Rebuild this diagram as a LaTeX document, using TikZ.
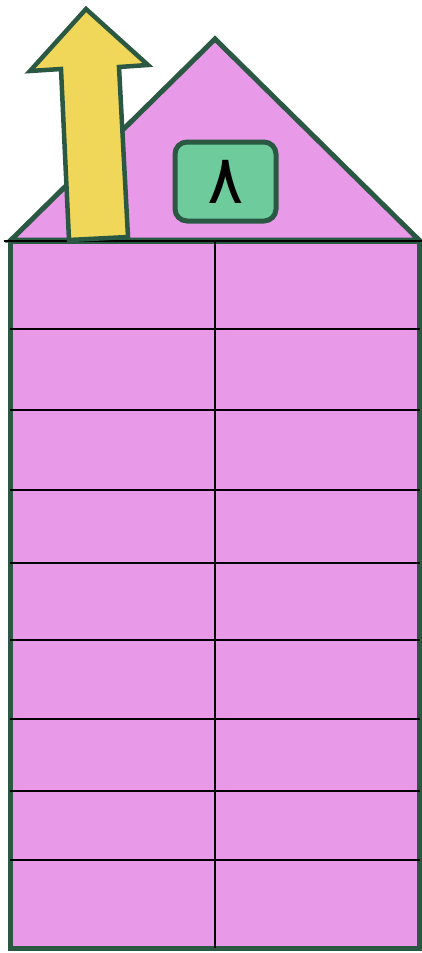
\documentclass[tikz,border=0pt]{standalone}
\usepackage{fontspec}
\newfontfamily\arabicfont[Script=Arabic]{DejaVu Sans}
\TeXXeTstate=1
\definecolor{pinkfill}{HTML}{E89AE8}
\definecolor{darkgreen}{HTML}{2B5843}
\definecolor{boxgreen}{HTML}{6DCB9C}
\definecolor{arrowyellow}{HTML}{F0D75A}
\tikzset{
  outline/.style={draw=darkgreen, line width=5pt, line join=miter},
  gridline/.style={draw=black, line width=1.8pt},
  labelbox/.style={outline, fill=boxgreen, rounded corners=12pt, minimum width=101pt, minimum height=79pt, inner sep=0pt},
}
\begin{document}
\begin{tikzpicture}[x=1pt,y=-1pt]
\useasboundingbox (0,0) rectangle (422,953);
% roof
\path[outline, fill=pinkfill] (11,240) -- (215,39) -- (419,240) -- cycle;
% body
\path[outline, fill=pinkfill] (10,241) rectangle (419,948);
% grid
\draw[gridline] (4,241) -- (422,241);
\foreach \yy in {329,410,490,563,640,719,791,860}
  \draw[gridline] (10,\yy) -- (420,\yy);
\draw[gridline] (215,241) -- (215,948);
% arrow
\path[outline, line width=4.5pt, fill=arrowyellow] (86,9) -- (148,65) -- (119,67) -- (128,237) -- (69,240) -- (61,69) -- (30,71) -- cycle;
% label
\node[labelbox] (lbl) at (225.5,181.5) {\fontsize{68}{68}\selectfont\arabicfont\beginR ٨\endR};
\end{tikzpicture}
\end{document}
